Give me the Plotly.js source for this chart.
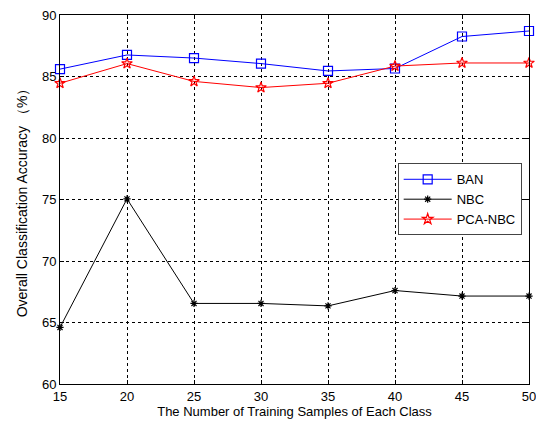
<!DOCTYPE html>
<html>
<head>
<meta charset="utf-8">
<script src="https://cdn.plot.ly/plotly-3.0.1.min.js"></script>
<style>html,body{margin:0;padding:0;background:#fff;}#chart{width:536px;height:423px;}</style>
</head>
<body>
<div id="chart"></div>
<script>
const samples = [15, 20, 25, 30, 35, 40, 45, 50];
const ban = [85.6, 86.75, 86.5, 86.05, 85.45, 85.65, 88.25, 88.7];
const nbc = [64.6, 75.05, 66.55, 66.55, 66.35, 67.6, 67.15, 67.15];
const pcaNbc = [84.45, 86.05, 84.6, 84.1, 84.45, 85.85, 86.1, 86.1];
const xTicks = [15, 20, 25, 30, 35, 40, 45, 50];
const yTicks = [60, 65, 70, 75, 80, 85, 90];

const font = {family: 'Liberation Sans, Arial, sans-serif', size: 13, color: '#000'};
const yTitleFont = {family: 'Liberation Sans, Arial, sans-serif', size: 14, color: '#000'};

const traces = [
  {x: samples, y: ban, name: 'BAN', mode: 'lines+markers', cliponaxis: false,
   line: {color: '#0000ff', width: 1},
   marker: {symbol: 'square-open', size: 9, color: '#0000ff', line: {width: 1.2}}},
  {x: samples, y: nbc, name: 'NBC', mode: 'lines+markers', cliponaxis: false,
   line: {color: '#000000', width: 1},
   marker: {symbol: 'asterisk-open', size: 6, color: '#000000', line: {width: 1.2}}},
  {x: samples, y: pcaNbc, name: 'PCA-NBC', mode: 'lines+markers', cliponaxis: false,
   line: {color: '#ff0000', width: 1},
   marker: {symbol: 'star-open', size: 8, color: '#ff0000', line: {width: 1.2}}}
];

const axisCommon = {
  showline: true, linecolor: '#000', linewidth: 1, mirror: 'ticks',
  ticks: 'inside', ticklen: 4, tickcolor: '#000',
  showgrid: true, gridcolor: '#000', gridwidth: 1, griddash: '3px,3px',
  zeroline: false, tickfont: font, ticklabeloverflow: 'allow'
};

const layout = {
  width: 536, height: 423,
  margin: {l: 60, r: 7, t: 15, b: 39},
  paper_bgcolor: '#fff', plot_bgcolor: '#fff',
  font: font,
  showlegend: true,
  legend: {x: 0.72, y: 0.598, xanchor: 'left', yanchor: 'top',
           bgcolor: '#fff', bordercolor: '#444', borderwidth: 1,
           font: font, itemwidth: 48, tracegroupgap: 0},
  xaxis: Object.assign({}, axisCommon, {
    range: [15, 50], tickvals: xTicks, ticktext: xTicks.map(String),
    title: {text: 'The Number of Training Samples of Each Class', font: font, standoff: 2}
  }),
  yaxis: Object.assign({}, axisCommon, {
    range: [60, 90], tickvals: yTicks, ticktext: yTicks.map(String),
    title: {text: 'Overall Classification Accuracy （%）', font: yTitleFont, standoff: 11}
  })
};

Plotly.newPlot('chart', traces, layout, {displayModeBar: false, staticPlot: true});
</script>
</body>
</html>
